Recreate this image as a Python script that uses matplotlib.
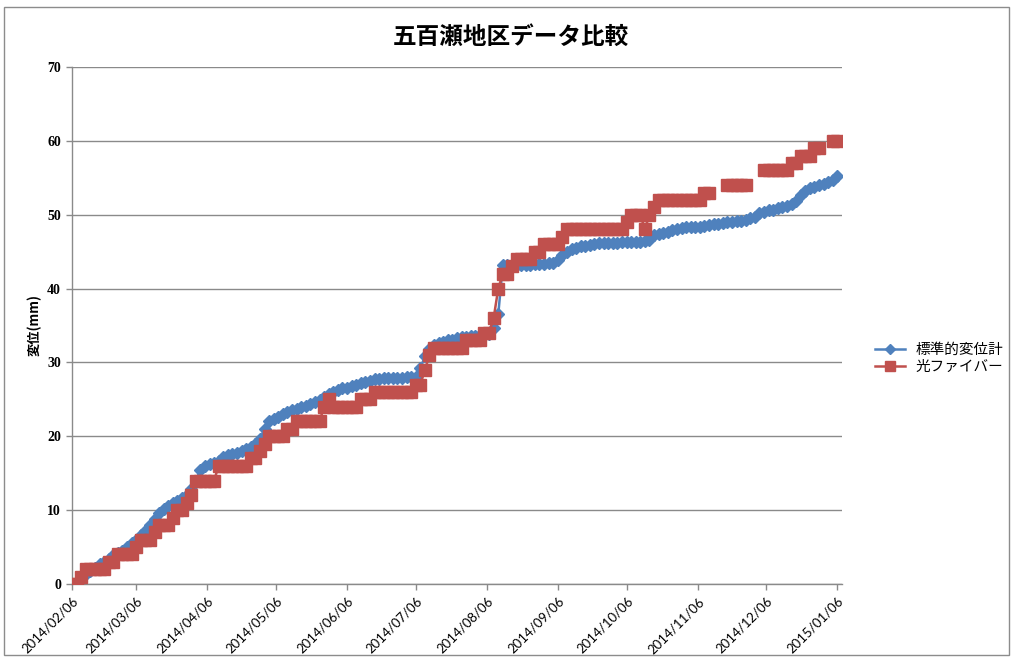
import numpy as np
import pandas as pd
import matplotlib
matplotlib.use("Agg")
import matplotlib.pyplot as plt
import matplotlib.dates as mdates
from matplotlib.patches import Rectangle

# displacement readings, one value every 2 days from 2014/02/06
standard = [
    0.0, 0.3, 0.8, 1.3, 1.8, 2.2, 2.7, 3.0, 3.4, 3.9,
    4.2, 4.5, 5.0, 5.5, 6.0, 6.6, 7.2, 8.0, 8.8, 9.6,
    10.1, 10.6, 11.0, 11.3, 11.6, 12.0, 12.8, 14.0, 15.4, 16.0,
    16.2, 16.4, 16.7, 17.2, 17.5, 17.6, 17.8, 18.0, 18.3, 18.6,
    19.0, 19.6, 21.0, 22.0, 22.3, 22.6, 23.0, 23.3, 23.5, 23.7,
    23.9, 24.1, 24.4, 24.6, 24.9, 25.3, 25.7, 26.0, 26.3, 26.5,
    26.6, 26.8, 27.0, 27.2, 27.4, 27.5, 27.7, 27.8, 27.9, 27.9,
    27.9, 27.9, 27.9, 28.0, 28.0, 28.0, 29.2, 30.8, 31.8, 32.4,
    32.6, 32.8, 33.0, 33.1, 33.3, 33.4, 33.5, 33.6, 33.6, 33.7,
    33.8, 33.9, 34.6, 36.5, 43.2, 43.2, 43.2, 43.2, 43.2, 43.2,
    43.2, 43.3, 43.3, 43.3, 43.4, 43.5, 43.8, 44.5, 45.0, 45.3,
    45.5, 45.7, 45.8, 45.9, 46.0, 46.1, 46.1, 46.2, 46.2, 46.2,
    46.3, 46.3, 46.3, 46.3, 46.3, 46.4, 46.6, 47.2, 47.4, 47.5,
    47.7, 47.9, 48.0, 48.2, 48.3, 48.3, 48.4, 48.4, 48.5, 48.6,
    48.7, 48.8, 48.9, 49.0, 49.0, 49.1, 49.2, 49.3, 49.5, 49.7,
    50.2, 50.4, 50.6, 50.7, 50.9, 51.1, 51.2, 51.4, 51.8, 52.6,
    53.2, 53.6, 53.8, 54.0, 54.2, 54.4, 54.7, 55.2,
]

nan = np.nan
fiber = [
    0, 0, 1, 2, 2, 2, 2, 2, 3, 3,
    4, 4, 4, 4, 5, 6, 6, 6, 7, 8,
    8, 8, 9, 10, 10, 11, 12, 14, 14, 14,
    14, 14, 16, 16, 16, 16, 16, 16, 16, 17,
    17, 18, 19, 20, 20, 20, 20, 21, 21, 22,
    22, 22, 22, 22, 22, 24, 25, 24, 24, 24,
    24, 24, 24, 25, 25, 25, 26, 26, 26, 26,
    26, 26, 26, 26, 26, 27, 27, 29, 31, 32,
    32, 32, 32, 32, 32, 32, 33, 33, 33, 33,
    34, 34, 36, 40, 42, 42, 43, 44, 44, 44,
    44, 45, 45, 46, 46, 46, 46, 47, 48, 48,
    48, 48, 48, 48, 48, 48, 48, 48, 48, 48,
    48, 49, 50, 50, 50, 48, 50, 51, 52, 52,
    52, 52, 52, 52, 52, 52, 52, 52, 53, 53,
    nan, nan, nan, 54, 54, 54, 54, 54, nan, nan,
    nan, 56, 56, 56, 56, 56, 56, 57, 57, 58,
    58, 58, 59, 59, nan, nan, 60, 60,
]

dates = pd.date_range("2014-02-06", periods=len(standard), freq="2D")

title = "五百瀬地区データ比較"
labels = ["標準的変位計", "光ファイバー"]

blue = "#4F81BD"
red = "#C0504D"
grid_col = "#8a8a8a"

fig = plt.figure(figsize=(10.16, 6.58), dpi=100)
ax = fig.add_axes([0.0709, 0.1125, 0.7578, 0.7857])

ax.plot(dates, standard, color=blue, lw=1.8, marker="D", ms=6,
        mec=blue, mfc=blue, label=labels[0], zorder=3)
ax.plot(dates, fiber, color=red, lw=1.8, marker="s", ms=8.5,
        mec=red, mfc=red, label=labels[1], zorder=4)

ax.set_ylim(0, 70)
ax.set_yticks(range(0, 71, 10))
ax.set_xlim(pd.Timestamp("2014-02-06"), pd.Timestamp("2015-01-08"))
ax.xaxis.set_major_locator(mdates.MonthLocator(bymonthday=6))
ax.xaxis.set_major_formatter(mdates.DateFormatter("%Y/%m/%d"))

ax.grid(axis="y", color=grid_col, lw=1)
ax.set_axisbelow(True)
for side in ["top", "right"]:
    ax.spines[side].set_visible(False)
for side in ["left", "bottom"]:
    ax.spines[side].set_color(grid_col)
    ax.spines[side].set_linewidth(1)
ax.tick_params(axis="both", color=grid_col, length=4, width=1, pad=4)

for t in ax.get_yticklabels():
    t.set_fontfamily("Liberation Serif")
    t.set_fontsize(10)
    t.set_fontweight("bold")
for t in ax.get_xticklabels():
    t.set_fontfamily("Lato")
    t.set_fontsize(9.5)
plt.setp(ax.get_xticklabels(), rotation=45, ha="right", va="top",
         rotation_mode="anchor")

ax.set_ylabel("変位(mm)", family=["Noto Sans CJK JP", "DejaVu Sans"],
              fontsize=9.5, fontweight="bold", labelpad=4)

fig.text(0.503, 0.944, title, ha="center", va="center",
         family="Noto Sans CJK JP", fontsize=17, fontweight="bold")

fig.legend(loc="center left", bbox_to_anchor=(0.848, 0.455), frameon=False,
           prop={"family": "Noto Sans CJK JP", "size": 10.5},
           handlelength=2.1, handletextpad=0.7, labelspacing=0.25,
           markerscale=0.8)

fig.patches.append(Rectangle((0.004, 0.0046), 0.989, 0.985,
                             transform=fig.transFigure, fill=False,
                             edgecolor="#8c8c8c", lw=1))

fig.savefig("out.png", dpi=100, facecolor="white")
